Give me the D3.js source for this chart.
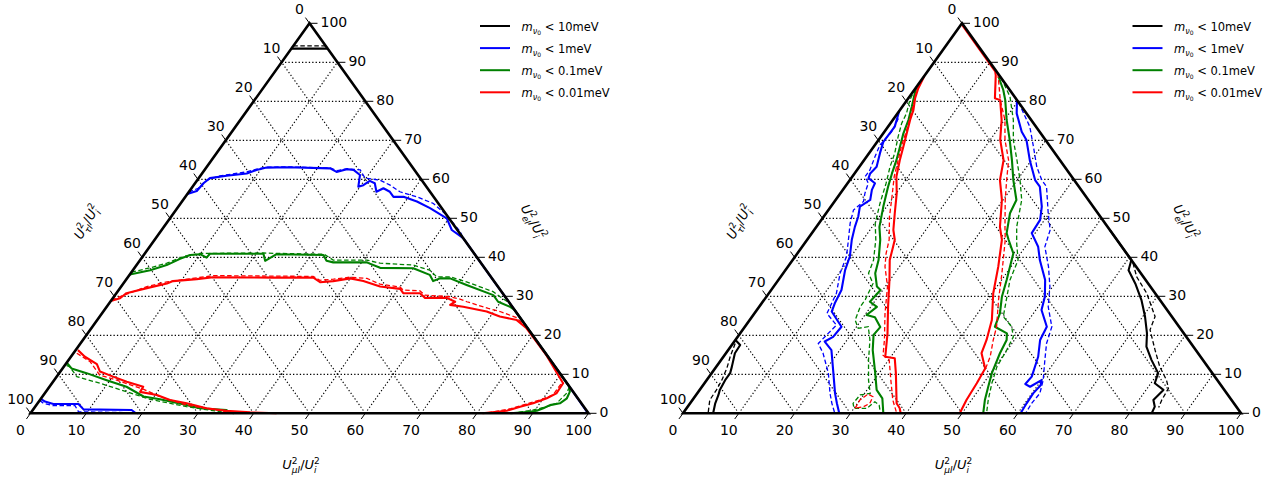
<!DOCTYPE html>
<html><head><meta charset="utf-8">
<script src="https://cdn.jsdelivr.net/npm/d3@7"></script>
<style>
html,body{margin:0;padding:0;background:#fff;}
svg{display:block;font-family:"DejaVu Sans",sans-serif;}
</style></head><body>
<svg id="chart" width="1273" height="481"></svg>
<script>
// ---------- tick labels / categories ----------
const tickValues = [0,10,20,30,40,50,60,70,80,90,100];
const gridValues = [10,20,30,40,50,60,70,80,90];
const seriesColors = ["#000000","#0000ff","#008000","#ff0000"];
const legendValues = ["10meV","1meV","0.1meV","0.01meV"];

// ---------- data: points as [U_mu^2/U_i^2 (bottom axis), U_e^2/U_i^2 (right axis)] in % ----------
// LEFT PANEL
const leftBlackSolid = [[0,93.5],[6.5,93.5]];
const leftBlackDash  = [[0,94.2],[5.8,94.2]];

const leftBlueSolid = [[0,56.2],[1.3,57.0],[1.5,59.0],[2.0,60.3],[4.7,60.9],[8.0,61.5],[9.3,62.4],[10.8,63.0],[14.4,63.1],[22.3,62.8],[23.9,61.9],[25.4,62.6],[26.7,62.4],[28.5,61.1],[29.7,58.1],[30.4,58.5],[31.0,59.6],[32.2,59.0],[33.6,56.8],[34.4,57.7],[36.0,56.8],[37.3,55.5],[39.1,55.5],[42.1,54.3],[45.3,52.6],[49.6,50.0],[52.0,47.0],[55.1,44.9],[65,35],[75,25],[85,15],[95,5],[99.7,0.2]];
const leftBlueDash = [[0,56.7],[1.2,57.7],[1.7,59.8],[3.5,60.9],[7.8,61.9],[9.2,62.6],[10.8,63.1],[14.4,63.2],[22.3,62.9],[23.9,62.2],[25.4,62.7],[27.9,62.4],[29.8,60.3],[32.7,59.8],[35.2,58.5],[37.8,56.8],[41.5,55.5],[45.3,53.8],[49.2,50.8],[53.7,46.6],[55.0,45.0]];
const leftBlueSolid2 = [[0,3.7],[1.1,3.0],[2.9,2.4],[7.4,2.4],[9.0,1.0],[17.7,0.85],[18.7,0.15],[19.3,0]];
const leftBlueDash2 = [[0,3.3],[1.0,2.6],[3.1,1.95],[7.0,1.95],[8.4,0.4],[18.3,0.15],[19.0,0]];

const leftGreenSolid = [[0,35.6],[3.1,36.7],[5.4,38.0],[7.0,39.6],[8.3,40.6],[10.0,40.8],[11.6,39.9],[11.7,40.9],[21.3,40.9],[22.5,39.1],[23.7,40.8],[32.2,40.6],[33.5,39.1],[34.9,38.7],[40.9,38.7],[44.0,37.3],[50.0,37.2],[53.8,35.5],[55.2,33.9],[56.1,34.6],[57.9,34.6],[61.7,32.9],[67.8,30.3],[69.5,28.6],[72.3,27.3],[73.4,26.6],[78,22],[85,15],[93.2,6.8],[93.9,5.5],[94.2,3.85],[93.6,2.56],[92.05,2.1],[91.25,1.3],[90.4,0.67],[89.3,0.4],[87.1,0.15],[86,0]];
const leftGreenDash = [[0,36.2],[2.8,37.3],[5.2,38.5],[7.3,40.2],[9.9,41.0],[21.3,41.1],[23.7,41.0],[32.2,40.8],[34.6,39.3],[40.6,39.3],[43.4,38.5],[49.6,38.0],[53.2,36.7],[55.3,35.0],[57.7,35.0],[61.3,33.7],[67.3,31.2],[69.2,29.9],[71.8,28.2]];
const leftGreenDash3 = [[93.2,6.8],[93.5,5.1],[93.0,2.56],[91.7,1.7],[89.7,0.85],[87.5,0.3],[86.5,0]];
const leftGreenSolid2 = [[0,13.0],[1.6,11.5],[4.9,10.3],[9.4,8.5],[13.8,6.8],[18.1,4.3],[21.4,3.6],[26.2,2.3],[29.7,1.28],[34.7,0.85],[35.7,0.15],[36.5,0]];
const leftGreenDash2 = [[0.3,12.3],[1.1,11.9],[3.6,9.4],[8.6,7.7],[14.5,5.5],[19.6,3.6],[27.1,1.7],[33.8,0.4],[35.5,0]];

const leftRedSolid = [[0,28.8],[1.3,29.5],[1.8,30.8],[4.8,32.1],[7.8,33.3],[8.6,33.9],[12.6,34.4],[15.3,34.9],[26.1,34.8],[33.3,34.8],[35.1,33.6],[37.3,33.9],[40.0,34.6],[42.7,33.9],[46.4,32.5],[50.3,31.9],[51.4,30.8],[54.4,30.8],[55.9,29.6],[59.8,29.6],[61.8,28.6],[61.3,27.8],[63.9,27.3],[68.7,26.1],[71.7,24.8],[75.2,23.9],[78.0,21.8],[85,14.9],[91.6,7.7],[91.7,5.1],[90.6,3.85],[88.8,2.56],[86.9,1.7],[85.0,0.67],[81.8,0.15],[81,0]];
const leftRedDash = [[0,29.05],[1.1,29.9],[4.6,32.5],[7.6,33.7],[15.1,35.3],[33.1,35.1],[34.8,34.1],[37.1,34.4],[39.8,34.9],[43.0,34.6],[46.1,33.1],[50.0,32.4],[51.0,31.6],[54.1,31.4],[55.5,30.3],[60.2,29.9],[62.3,29.3],[63.9,28.6],[68.6,26.9],[71.1,26.1],[74.9,24.5],[77.3,22.5]];
const leftRedDash3 = [[91.3,7.5],[91.3,4.7],[89.6,3.4],[87.5,2.3],[85.5,1.2],[83,0.4],[81.5,0]];
const leftRedSolid2 = [[0.4,16.2],[2.5,14.5],[5.6,12.6],[7.1,10.7],[10.1,9.4],[13.2,8.1],[16.8,6.8],[16.9,5.5],[20.3,4.7],[23.3,3.4],[26.7,2.56],[30.9,1.28],[34.8,0.67],[39.2,0.26],[44.1,0]];
const leftRedDash2 = [[0.6,15.4],[4.1,13.2],[7.5,9.8],[11.2,8.5],[17.1,6.2],[21.0,4.3],[26.9,2.1],[35.0,0.4],[41,0]];

// RIGHT PANEL
const rightBlackSolid = [[0,18.8],[1.5,17.5],[1.6,15.4],[2.8,11.9],[3.3,10.3],[3.3,8.5],[3.6,6.0],[4.0,4.7],[4.5,2.56],[5.4,0]];
const rightBlackDash = [[0.4,17.9],[1.2,14.5],[2.1,11.5],[2.7,8.5],[3.0,6.0],[3.1,3.4],[4.5,0]];
const rightBlackSolid2 = [[53,47],[60.7,39.3],[61.5,36.7],[64.4,33.3],[67.6,29.1],[70.4,24.8],[72.9,20.5],[74.5,17.1],[77.1,13.7],[80.0,10.3],[80.7,7.7],[83.1,6.0],[82.6,3.4],[83.7,1.7],[84.0,0]];
const rightBlackDash2 = [[61.4,38.5],[63.8,35.0],[67.7,30.8],[72.2,24.8],[73.0,21.4],[76.5,16.2],[79.5,11.9],[82.4,8.5],[83.8,6.4],[84.1,3.4],[84.5,1.5]];

const rightBlueSolid = [[0,77.5],[1.2,73.5],[1.1,69.6],[1.95,66.7],[3.1,63.2],[2.8,61.5],[3.1,60.3],[4.9,59.0],[5.2,57.3],[6.2,54.7],[5.2,53.0],[6.2,50.4],[6.9,47.8],[8.0,44.5],[9.8,40.2],[10.7,36.7],[12.6,31.6],[13.1,28.2],[13.6,26.1],[17.3,22.2],[17.1,19.6],[16.2,18.4],[18.5,16.2],[21.8,10.3],[24.7,5.1],[26.3,2.56],[28.0,0]];
const rightBlueDash = [[0.8,75.6],[1.3,72.2],[0.9,68.8],[1.5,65.8],[2.3,62.4],[2.3,60.7],[3.7,59.0],[4.4,56.4],[5.2,54.3],[4.5,52.1],[5.6,48.7],[7.4,44.5],[9.2,40.2],[10.2,35.9],[12.1,30.8],[12.7,27.3],[13.0,25.6],[16.2,22.6],[15.7,20.1],[15.3,17.9],[17.4,15.4],[20.9,10.3],[23.8,5.1],[25.4,2.56],[27.2,0]];
const rightBlueSolid2 = [[19.7,80.3],[21.35,76.9],[24.6,72.2],[26.5,70.1],[29.7,64.9],[33.2,59.8],[34.9,58.1],[37.8,53.0],[39.2,49.6],[39.4,46.2],[42.3,42.7],[44.3,39.3],[47.8,34.2],[49.9,29.9],[51.0,26.5],[54.1,22.2],[54.6,18.8],[56.4,14.5],[57.8,9.4],[57.6,7.5],[58.8,6.8],[60.0,8.5],[60.5,7.2],[60.2,5.1],[60.3,2.56],[60.5,0]];
const rightBlueDash2 = [[20.3,79.7],[25.4,73.5],[28.6,68.4],[31.8,63.2],[34.4,59.8],[36.1,58.1],[39.8,51.3],[42.3,47.0],[43.5,42.7],[46.7,37.6],[49.5,32.5],[51.8,27.3],[55.0,22.2],[56.2,17.9],[58.0,13.7],[60.3,8.5],[61.4,5.1],[61.2,2.56],[61.4,0]];

const rightGreenSolid = [[0,83.7],[0.5,82.1],[1.7,78.6],[2.8,75.2],[3.6,71.8],[4.7,68.4],[5.8,64.9],[6.7,61.5],[7.7,58.1],[9.4,53.0],[11.3,47.8],[13.1,44.5],[15.4,39.3],[16.5,35.9],[18.5,32.5],[19.6,31.6],[19.2,28.6],[21.1,27.3],[20.3,25.2],[22.1,24.6],[24.3,22.1],[24.1,20.1],[25.9,16.2],[29.3,10.3],[31.7,6.0],[33.8,3.85],[35.9,0]];
const rightGreenDash = [[0,83.3],[0.5,80.3],[1.6,76.9],[2.0,74.4],[3.1,70.9],[4.6,66.7],[5.5,63.2],[6.9,59.0],[8.4,53.8],[10.1,48.7],[12.3,44.5],[14.5,39.3],[15.3,35.9],[17.4,33.3],[18.1,29.1],[18.1,27.3],[18.9,23.9],[20.5,21.8],[22.1,22.2],[24.1,18.8],[26.4,13.7],[29.0,8.5],[31.0,5.1],[29.4,4.7],[29.2,2.56],[30.0,1.28],[32.3,1.28],[32.9,2.97],[34.1,2.1],[35.4,0]];
const rightGreenSolid2 = [[13.4,86.3],[15.95,82.9],[17.6,80.3],[20.4,75.2],[23.5,70.1],[26.5,64.9],[29.3,59.8],[32.4,54.7],[32.95,51.3],[34.9,46.2],[36.1,44.5],[38.7,41.0],[40.9,34.2],[42.2,29.9],[44.0,25.6],[44.8,22.2],[47.8,20.5],[48.6,18.8],[49.1,15.4],[50.2,10.3],[51.3,6.8],[52.4,3.4],[53.8,0]];
const rightGreenDash2 = [[14.0,86.0],[18.0,81.2],[21.6,75.2],[24.15,70.1],[27.4,64.9],[30.5,59.8],[33.35,54.7],[35.9,47.8],[38.0,43.6],[40.4,39.3],[41.5,34.2],[43.1,29.9],[45.0,24.8],[47.8,22.2],[49.4,19.6],[49.9,16.2],[50.3,11.9],[51.5,7.7],[53.0,3.4],[54.4,0]];

const rightRedSolid = [[0,86.5],[0.5,83.3],[1.2,80.8],[2.4,77.8],[3.1,75.2],[4.2,71.8],[5.3,68.4],[6.4,64.9],[7.9,60.7],[10.1,56.4],[12.3,51.3],[14.2,47.0],[15.7,44.5],[16.3,42.7],[17.4,39.3],[19.9,34.2],[23.1,27.3],[26.4,20.5],[29.0,14.5],[30.9,14.1],[33.0,10.3],[37.0,2.56],[38.2,1.28],[39.0,0]];
const rightRedDash = [[0,85.5],[0.6,82.5],[1.9,78.6],[3.0,75.2],[3.9,72.2],[4.8,68.8],[6.1,64.9],[7.5,60.7],[9.7,55.5],[11.8,50.4],[14.7,44.5],[15.9,41.0],[17.4,37.6],[20.4,32.5],[23.4,25.6],[26.7,18.8],[28.4,14.9],[30.1,13.7],[33.0,8.5],[35.9,3.4],[38.3,0]];
const rightRedLoop = [[30.2,1.28],[30.0,3.4],[30.7,4.95],[31.9,4.26],[32.2,2.56],[31.5,1.7],[30.2,1.28]];
const rightRedSolid2 = [[0.3,99.5],[12.1,87.7],[12.7,86.7],[15.5,80.8],[16.7,80.3],[19.5,75.2],[21.8,70.1],[25.0,64.9],[26.9,59.8],[29.8,54.7],[32.9,47.8],[34.9,44.5],[37.7,37.6],[40.2,30.8],[43.4,23.9],[45.0,18.8],[45.8,15.4],[48.4,11.5],[48.8,7.7],[49.1,3.4],[49.6,0]];
const rightRedDash2 = [[12.8,87.2],[13.8,85.5],[16.7,80.3],[20.1,75.2],[22.65,70.1],[25.9,64.9],[28.1,59.8],[30.4,54.7],[33.8,47.8],[35.5,44.5],[39.2,35.9],[42.0,29.1],[45.1,22.2],[46.2,18.8],[47.8,14.5],[48.6,11.0]];

// ---------- layout ----------
const panels = [
  {x0:30.5, W:558, B:413.3, H:390,
   series:[
     {solid:[leftBlackSolid], dash:[leftBlackDash]},
     {solid:[leftBlueSolid,leftBlueSolid2], dash:[leftBlueDash,leftBlueDash2]},
     {solid:[leftGreenSolid,leftGreenSolid2], dash:[leftGreenDash,leftGreenDash2,leftGreenDash3]},
     {solid:[leftRedSolid,leftRedSolid2], dash:[leftRedDash,leftRedDash2,leftRedDash3]}
   ]},
  {x0:683, W:558, B:413.3, H:390,
   series:[
     {solid:[rightBlackSolid,rightBlackSolid2], dash:[rightBlackDash,rightBlackDash2]},
     {solid:[rightBlueSolid,rightBlueSolid2], dash:[rightBlueDash,rightBlueDash2]},
     {solid:[rightGreenSolid,rightGreenSolid2], dash:[rightGreenDash,rightGreenDash2]},
     {solid:[rightRedSolid,rightRedSolid2], dash:[rightRedDash,rightRedDash2,rightRedLoop]}
   ]}
];

const svg = d3.select("#chart");
const TICK_FS = 14;

function mathTitle(g, x, y, rot, sub) {
  const t = g.append("text").attr("x", x).attr("y", y).attr("text-anchor","middle")
    .attr("font-size", 13).attr("transform", `rotate(${rot},${x},${y - 4})`);
  t.append("tspan").attr("font-style","italic").text("U");
  t.append("tspan").attr("font-size",9).attr("dy",-5.5).text("2");
  t.append("tspan").attr("font-size",9).attr("font-style","italic").attr("dx",-5.7).attr("dy",9.5).text(sub);
  t.append("tspan").attr("dy",-4).text("/");
  t.append("tspan").attr("font-style","italic").text("U");
  t.append("tspan").attr("font-size",9).attr("dy",-5.5).text("2");
  t.append("tspan").attr("font-size",9).attr("font-style","italic").attr("dx",-5.7).attr("dy",9.5).text("i");
}

panels.forEach(p => {
  const xs = d3.scaleLinear().domain([0,100]).range([p.x0, p.x0 + p.W]);
  const ys = d3.scaleLinear().domain([0,100]).range([p.B, p.B - p.H]);
  const px = d => xs(d[0] + d[1]/2), py = d => ys(d[1]);
  const line = d3.line().x(px).y(py);
  const g = svg.append("g");

  // grid
  const segs = [];
  gridValues.forEach(v => {
    segs.push([[0,v],[100-v,v]]);
    segs.push([[v,0],[v,100-v]]);
    segs.push([[100-v,0],[0,100-v]]);
  });
  g.append("g").selectAll("path").data(segs).join("path")
    .attr("d", line).attr("fill","none").attr("stroke","#000")
    .attr("stroke-width",1.15).attr("stroke-dasharray","1.3,2.1");

  // curves
  p.series.forEach((s,i) => {
    s.solid.forEach(arr => g.append("path").attr("d", line(arr)).attr("fill","none")
      .attr("stroke", seriesColors[i]).attr("stroke-width",2.1).attr("stroke-linejoin","round"));
    s.dash.forEach(arr => g.append("path").attr("d", line(arr)).attr("fill","none")
      .attr("stroke", seriesColors[i]).attr("stroke-width",1.3).attr("stroke-dasharray","4.5,2.5"));
  });

  // triangle
  g.append("path").attr("d", line([[0,0],[100,0],[0,100]]) + "Z").attr("fill","none")
    .attr("stroke","#000").attr("stroke-width",2.6).attr("stroke-linejoin","miter");

  // tick directions
  const A = [px([0,0]),py([0,0])], T = [px([0,100]),py([0,100])], R = [px([100,0]),py([100,0])];
  const norm = v => { const l = Math.hypot(v[0],v[1]); return [v[0]/l, v[1]/l]; };
  const leftDir = norm([T[0]-A[0], T[1]-A[1]]);
  const rightDir = norm([R[0]-T[0], R[1]-T[1]]);
  const L = 7;
  const tg = g.append("g").attr("font-size", TICK_FS).attr("fill","#000");
  tickValues.forEach(v => {
    const bx = px([v,0]), by = py([v,0]);
    tg.append("line").attr("x1",bx).attr("y1",by).attr("x2",bx - leftDir[0]*L).attr("y2",by - leftDir[1]*L).attr("stroke","#000").attr("stroke-width",1);
    tg.append("text").attr("x",bx-10).attr("y",by+22).attr("text-anchor","middle").text(v);
    const lx = px([0,100-v]), ly = py([0,100-v]);
    tg.append("line").attr("x1",lx).attr("y1",ly).attr("x2",lx - rightDir[0]*L).attr("y2",ly - rightDir[1]*L).attr("stroke","#000").attr("stroke-width",1);
    tg.append("text").attr("x",lx-10).attr("y",ly-9).attr("text-anchor","middle").text(v);
    const rx = px([100-v,v]), ry = py([100-v,v]);
    tg.append("line").attr("x1",rx).attr("y1",ry).attr("x2",rx+8).attr("y2",ry).attr("stroke","#000").attr("stroke-width",1);
    tg.append("text").attr("x",rx+11).attr("y",ry+4).attr("text-anchor","start").text(v);
  });

  // axis titles
  mathTitle(g, p.x0 + p.W/2 - 8.5, 469, 0, "μI");
  mathTitle(g, p.x0 + 56.5, 226, -60, "τI");
  mathTitle(g, p.x0 + 502.5, 226, 60, "eI");

  // legend
  const lg = g.append("g");
  legendValues.forEach((lab,i) => {
    const y = 26 + i*22.1;
    const lx0 = p.x0 + 449.5;
    lg.append("line").attr("x1",lx0).attr("x2",lx0+30).attr("y1",y).attr("y2",y)
      .attr("stroke",seriesColors[i]).attr("stroke-width",2);
    const t = lg.append("text").attr("x",lx0+41.5).attr("y",y+4.5).attr("font-size",11.5);
    t.append("tspan").attr("font-style","italic").text("m");
    t.append("tspan").attr("font-style","italic").attr("font-size",8).attr("dy",3).text("ν");
    t.append("tspan").attr("font-size",6).attr("dy",1.5).text("0");
    t.append("tspan").attr("dy",-4.5).text(" < " + lab);
  });
});
</script>
</body></html>
